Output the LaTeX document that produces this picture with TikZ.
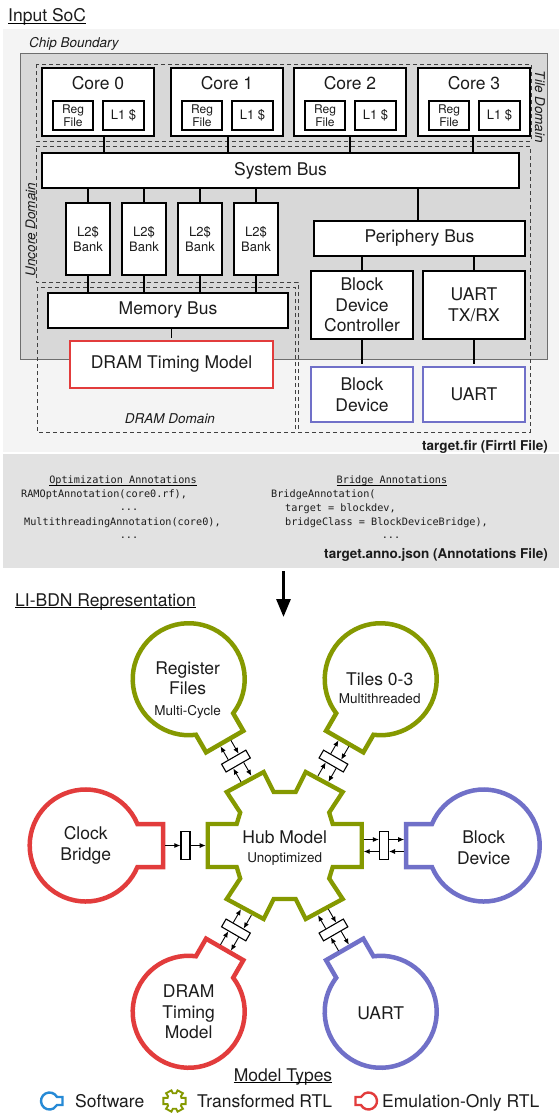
\documentclass[tikz,border=0pt]{standalone}
\usepackage{fontspec}
\setmainfont{TeX Gyre Heros}
\setmonofont{DejaVu Sans Mono}
\usetikzlibrary{arrows.meta,calc}

\newcommand\fBig{\fontsize{17.5}{20.5}\selectfont}
\newcommand\fMid{\fontsize{13.5}{16}\selectfont}
\newcommand\fSm{\fontsize{12}{13.4}\selectfont}
\newcommand\fCode{\ttfamily\fontsize{10.2}{14}\selectfont}
\newcommand\fFile{\bfseries\fontsize{13.5}{15}\selectfont}

\definecolor{ink}{RGB}{28,28,28}
\definecolor{panel}{RGB}{244,244,244}
\definecolor{chipfill}{RGB}{216,216,216}
\definecolor{chipline}{RGB}{110,110,110}
\definecolor{annofill}{RGB}{226,226,226}
\definecolor{rtlgreen}{RGB}{133,153,0}
\definecolor{emured}{RGB}{226,60,60}
\definecolor{devblue}{RGB}{112,112,200}
\definecolor{swblue}{RGB}{38,138,214}

\tikzset{
  hw/.style={draw=black, line width=2.8pt, fill=white, align=center},
  wire/.style={line width=1.6pt, draw=black},
  clkdom/.style={draw=black!75, line width=0.9pt, dash pattern=on 4pt off 3pt},
  sat/.style={line width=4.5pt, line join=miter},
  keyhole/.style n args={3}{insert path={({sqrt((#1)^2-(#2)^2)},#2) arc[start angle={asin(#2/#1)}, end angle={360-asin(#2/#1)}, radius=#1] -- (#3,-#2) -- (#3,#2) -- cycle}},
  hubgear/.style={insert path={(-77,21.5) -- (-48,21.5) -- (-44.5,33) -- (-58,53.5) -- (-21,73.5) -- (-11,53.5) -- (11,53.5) -- (21,73.5) -- (58,53.5) -- (44.5,33) -- (48,21.5) -- (77,21.5) -- (77,-21.5) -- (48,-21.5) -- (44.5,-33) -- (58,-53.5) -- (21,-73.5) -- (11,-53.5) -- (-11,-53.5) -- (-21,-73.5) -- (-58,-53.5) -- (-44.5,-33) -- (-48,-21.5) -- (-77,-21.5) -- cycle}},
  buf/.style={draw=black, line width=1.1pt, fill=white, minimum width=9pt, minimum height=28pt},
  conn/.style={line width=0.9pt, -{Latex[length=6pt,width=5pt]}},
  uline/.style={line width=0.9pt},
}

\begin{document}
\begin{tikzpicture}[x=1pt, y=1pt, every node/.style={inner sep=0pt, text=ink}]
\useasboundingbox (0,0) rectangle (559,-1114);
\fill[white] (0,0) rectangle (559,-1114);

% ---------------- input SoC ----------------
\fill[panel] (3,-29) rectangle (559,-452);
\fill[annofill] (3,-454) rectangle (559,-568);

\node[font=\fBig, anchor=base west] (soc) at (8,-21.7) {Input SoC};
\draw[uline] ([yshift=-1.6pt]soc.base west) -- ([yshift=-1.6pt]soc.base east);

\node[draw=chipline, fill=chipfill, line width=0.9pt, minimum width=527pt, minimum height=306pt] (chip) at (283.5,-206) {};
\node[font=\fMid\itshape, anchor=base west] (chiplbl) at (29,-47) {Chip Boundary};

% clock domains
\draw[clkdom] (36,-64) rectangle (531,-141);
\draw[clkdom] (36,-146) -- (530,-146) -- (530,-432) -- (298,-432) -- (298,-282) -- (36,-282) -- cycle;
\draw[clkdom] (37,-287) rectangle (295,-432);
\node[font=\fMid\itshape, rotate=-90] (tiledom) at (540,-107) {Tile Domain};
\node[font=\fMid\itshape, rotate=90] (uncdom) at (30.5,-229.5) {Uncore Domain};
\node[font=\fMid\itshape] (dramdom) at (170,-419) {DRAM Domain};

% cores
\node[hw, minimum width=477pt, minimum height=35pt, font=\fBig] (sysbus) at (280.5,-170.5) {System Bus};
\foreach \i/\x/\s in {0/42/6,1/171/1,2/294/0,3/418/-1} {
  \node[hw, minimum width=112pt, minimum height=68pt] (core\i) at (\x+56,-102) {};
  \node[font=\fBig] (core\i-name) at (\x+56,-83) {Core \i};
  \node[hw, line width=2.6pt, minimum width=40pt, minimum height=29pt, font=\fSm] (core\i-rf) at (\x+31,-115.5) {Reg\\File};
  \node[hw, line width=2.6pt, minimum width=41pt, minimum height=29pt, font=\fontsize{13}{14}\selectfont] (core\i-l1) at (\x+81.5,-115.5) {L1 \$};
  \draw[wire] ([xshift=\s pt]core\i.south) -- ([xshift=\s pt]core\i.south |- sysbus.north);
}

% L2 banks and memory side
\node[hw, minimum width=240pt, minimum height=35pt, font=\fBig] (membus) at (168,-310.5) {Memory Bus};
\foreach \i/\x in {0/88,1/144,2/200,3/256} {
  \node[hw, minimum width=44pt, minimum height=72pt, font=\fontsize{13}{14.5}\selectfont] (l2\i) at (\x,-239) {L2\$\\Bank};
  \draw[wire] (l2\i.north |- sysbus.south) -- (l2\i.north);
  \draw[wire] (l2\i.south) -- (l2\i.south |- membus.north);
}
\node[hw, draw=emured, minimum width=203pt, minimum height=47pt, font=\fBig] (dramtm) at (171.5,-364.5) {DRAM Timing Model};
\draw[wire, shorten >=1.4pt] (dramtm.north |- membus.south) -- (dramtm.north);

% periphery
\node[hw, minimum width=211pt, minimum height=35pt, font=\fBig] (pbus) at (419.5,-238.5) {Periphery Bus};
\draw[wire] ([xshift=-1.5pt]pbus.north |- sysbus.south) -- ([xshift=-1.5pt]pbus.north);
\node[hw, minimum width=102pt, minimum height=68pt, font=\fBig] (bdc) at (362,-305) {Block\\Device\\Controller};
\node[hw, minimum width=102pt, minimum height=68pt, font=\fBig] (uartrx) at (474,-305) {UART\\TX/RX};
\node[hw, draw=devblue, minimum width=102pt, minimum height=55pt, font=\fBig] (bdev) at (362,-394.5) {Block\\Device};
\node[hw, draw=devblue, minimum width=102pt, minimum height=55pt, font=\fBig] (uartdev) at (474,-394.5) {UART};
\draw[wire] (bdc.north |- pbus.south) -- (bdc.north);
\draw[wire] (uartrx.north |- pbus.south) -- (uartrx.north);
\draw[wire, shorten >=1.4pt] (bdc.south) -- (bdev.north);
\draw[wire, shorten >=1.4pt] (uartrx.south) -- (uartdev.north);

\node[font=\fFile, anchor=base east] (fir) at (548,-450.5) {target.fir (Firrtl File)};

% ---------------- annotations ----------------
\node[font=\fCode, anchor=base] (opthdr) at (123,-483) {Optimization Annotations};
\draw[line width=0.8pt] ([yshift=-2pt]opthdr.base west) -- ([yshift=-2pt]opthdr.base east);
\node[font=\fCode, anchor=base west] (ramopt) at (21,-497) {RAMOptAnnotation(core0.rf),};
\node[font=\fCode, anchor=base] (optdots1) at (129,-510) {...};
\node[font=\fCode, anchor=base west] (mtann) at (24,-525) {MultithreadingAnnotation(core0),};
\node[font=\fCode, anchor=base] (optdots2) at (129,-538) {...};

\node[font=\fCode, anchor=base] (brhdr) at (392,-483) {Bridge Annotations};
\draw[line width=0.8pt] ([yshift=-2pt]brhdr.base west) -- ([yshift=-2pt]brhdr.base east);
\node[font=\fCode, anchor=base west] (brann) at (271,-497) {BridgeAnnotation(};
\node[font=\fCode, anchor=base west] (brtgt) at (285,-511) {target = blockdev,};
\node[font=\fCode, anchor=base west] (brcls) at (285,-525) {bridgeClass = BlockDeviceBridge),};
\node[font=\fCode, anchor=base] (brdots) at (391,-538) {...};

\node[font=\fFile, anchor=base east] (annojson) at (548,-558.5) {target.anno.json (Annotations File)};

\coordinate (arrtop) at (283.5,-571);
\coordinate (arrtip) at (283.5,-617);
\draw[line width=3pt, -{Triangle[length=18pt,width=14pt]}] (arrtop) -- (arrtip);

% ---------------- LI-BDN graph ----------------
\node[font=\fBig, anchor=base west] (libdn) at (15,-606) {LI-BDN Representation};
\draw[uline] ([yshift=-1.6pt]libdn.base west) -- ([yshift=-1.6pt]libdn.base east);

\coordinate (H) at (284.7,-845.5);
\draw[rtlgreen, line width=4.3pt, line join=miter, shift={(H)}, hubgear];
\node[font=\fBig, align=center] (hub) at ($(H)+(0,-3)$) {Hub Model\\[-1.5pt]{\fMid Unoptimized}};

\coordinate (c-rf) at ($(H)+(120:192)$);
\coordinate (c-tl) at ($(H)+(60:192)$);
\coordinate (c-ck) at ($(H)+(180:199)$);
\coordinate (c-bd) at ($(H)+(0:199)$);
\coordinate (c-dr) at ($(H)+(240:192)$);
\coordinate (c-ua) at ($(H)+(300:192)$);

\draw[rtlgreen, sat, shift={(c-rf)}, rotate=-60, keyhole={56}{21.5}{72}];
\draw[rtlgreen, sat, shift={(c-tl)}, rotate=240, keyhole={56}{21.5}{72}];
\draw[emured, sat, shift={(c-ck)}, rotate=0, keyhole={56}{21.5}{77.5}];
\draw[devblue, sat, shift={(c-bd)}, rotate=180, keyhole={56}{21.5}{77.5}];
\draw[emured, sat, shift={(c-dr)}, rotate=60, keyhole={56}{21.5}{72}];
\draw[devblue, sat, shift={(c-ua)}, rotate=120, keyhole={56}{21.5}{72}];

\node[font=\fBig, align=center] (rf) at ($(c-rf)+(-1,-10.5)$) {Register\\Files\\{\fMid Multi-Cycle}};
\node[font=\fBig, align=center] (tl) at ($(c-tl)+(-1,-9)$) {Tiles 0-3\\[-3pt]{\fMid Multithreaded}};
\node[font=\fBig, align=center] (ck) at (c-ck) {Clock\\Bridge};
\node[font=\fBig, align=center] (bd) at ($(c-bd)+(0,-2)$) {Block\\Device};
\node[font=\fBig, align=center] (dr) at (c-dr) {DRAM\\Timing\\Model};
\node[font=\fBig, align=center] (ua) at ($(c-ua)+(0,-1)$) {UART};

% token channels between hub and the other models
\foreach \ang/\nm/\len/\hd in {120/rf/72/75, 60/tl/72/75, 0/bd/77.5/77, 240/dr/72/75, 300/ua/72/75} {
  \coordinate (hp-\nm) at ($(H)+(\ang:\hd)$);
  \coordinate (sp-\nm) at ($(c-\nm)+(\ang+180:\len)$);
  \node[buf, rotate=\ang] (q-\nm) at ($(hp-\nm)!0.5!(sp-\nm)$) {};
  \draw[conn, shorten <=2pt] ($(hp-\nm)+(\ang+90:6)$) -- ($(q-\nm.west)+(\ang+90:6)$);
  \draw[conn, shorten >=2pt] ($(q-\nm.east)+(\ang+90:6)$) -- ($(sp-\nm)+(\ang+90:6)$);
  \draw[conn, shorten <=2pt] ($(sp-\nm)+(\ang-90:6)$) -- ($(q-\nm.east)+(\ang-90:6)$);
  \draw[conn, shorten >=2pt] ($(q-\nm.west)+(\ang-90:6)$) -- ($(hp-\nm)+(\ang-90:6)$);
}
\coordinate (hp-ck) at ($(H)+(180:77)$);
\coordinate (sp-ck) at ($(c-ck)+(0:77.5)$);
\node[buf, rotate=180] (q-ck) at ($(hp-ck)!0.5!(sp-ck)$) {};
\draw[conn, shorten <=2pt] (sp-ck) -- (q-ck.east);
\draw[conn, shorten >=2pt] (q-ck.west) -- (hp-ck);

% ---------------- legend ----------------
\node[font=\fBig, anchor=base] (mtypes) at (283,-1081) {Model Types};
\draw[uline] ([yshift=-1.6pt]mtypes.base west) -- ([yshift=-1.6pt]mtypes.base east);

\draw[swblue, line width=2.4pt, line join=miter, shift={(49.5,-1101)}, keyhole={8.5}{4}{13}];
\node[font=\fBig, anchor=base west] (lsw) at (75,-1107.5) {Software};
\draw[rtlgreen, line width=1.9pt, line join=miter, shift={(174.5,-1101)}, scale=0.145, hubgear];
\node[font=\fBig, anchor=base west] (ltr) at (197,-1107.5) {Transformed RTL};
\draw[emured, line width=2.4pt, line join=miter, shift={(368.5,-1101)}, rotate=180, keyhole={8.5}{4}{13}];
\node[font=\fBig, anchor=base west] (lemu) at (382,-1107.5) {Emulation-Only RTL};
\end{tikzpicture}
\end{document}
